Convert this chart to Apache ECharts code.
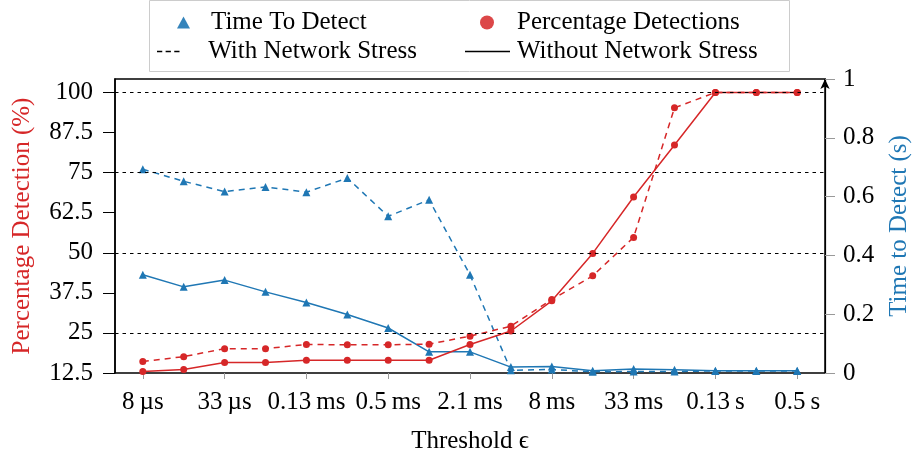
<!DOCTYPE html>
<html><head><meta charset="utf-8">
<script src="https://cdn.jsdelivr.net/npm/echarts@6/dist/echarts.min.js"></script>
<style>html,body{margin:0;padding:0;background:#fff}#c{width:917px;height:460px}</style>
</head><body><div id="c"></div>
<script>
// ---- data ----
const thresholds = ['8\u2009µs','16\u2009µs','33\u2009µs','66\u2009µs','0.13\u2009ms','0.26\u2009ms','0.5\u2009ms','1\u2009ms','2.1\u2009ms','4.2\u2009ms','8\u2009ms','17\u2009ms','33\u2009ms','67\u2009ms','0.13\u2009s','0.27\u2009s','0.5\u2009s'];
const xTickIndex = [0,2,4,6,8,10,12,14,16];
const ttdWith    = [0.693,0.652,0.617,0.633,0.615,0.663,0.533,0.589,0.334,0.009,0.012,0.004,0.005,0.005,0.007,0.007,0.007];
const ttdWithout = [0.334,0.293,0.316,0.276,0.240,0.199,0.153,0.072,0.072,0.020,0.022,0.008,0.014,0.011,0.008,0.008,0.008];
const pdWith     = [16.1,17.6,20.1,20.1,21.4,21.3,21.3,21.5,24.0,27.1,35.4,42.8,54.8,95.2,100,100,100];
const pdWithout  = [13.0,13.6,15.8,15.8,16.5,16.5,16.5,16.5,21.4,25.6,35.0,49.8,67.4,83.6,100,100,100];
const leftTicks  = [12.5,25,37.5,50,62.5,75,87.5,100];
const gridValues = [25,50,75,100];

const FONT = "'Liberation Serif', 'DejaVu Serif', serif";
const BLUE = '#1f77b4', RED = '#d62728';
const FS = 25;
const pairs = arr => arr.map((v, i) => [i, v]);

const chart = echarts.init(document.getElementById('c'), null, {renderer: 'canvas'});
const legendText = pad => ({fontSize: FS, color: '#000', fontFamily: FONT,
  rich: {p: {width: pad, fontSize: FS}, t: {fontSize: FS, color: '#000', fontFamily: FONT}}});
const legendFmt = name => '{p|}{t|' + name + '}';

const option = {
  animation: false,
  textStyle: {fontFamily: FONT},
  grid: {left: 115, right: 92, top: 79, bottom: 87, outerBoundsMode: 'none', containLabel: false,
         show: true, borderColor: '#000', borderWidth: 1.5, backgroundColor: 'transparent'},
  graphic: [{type: 'rect', z: -10, shape: {x: 149.5, y: 0.5, width: 640, height: 71}, style: {fill: 'none', stroke: '#cccccc', lineWidth: 1}}],
  legend: [
    {left: 177, top: 10, padding: 0, selectedMode: false, itemWidth: 13, itemHeight: 12, formatter: legendFmt,
     data: [{name: 'Time To Detect', icon: 'triangle', itemStyle: {color: BLUE, opacity: 0.9}}], textStyle: legendText(16)},
    {left: 480, top: 10, padding: 0, selectedMode: false, itemWidth: 14, itemHeight: 14, formatter: legendFmt,
     data: [{name: 'Percentage Detections', icon: 'circle', itemStyle: {color: RED, opacity: 0.85}}], textStyle: legendText(18)},
    {left: 157, top: 39, padding: 0, selectedMode: false, itemWidth: 30, itemHeight: 1.5, formatter: legendFmt,
     data: [{name: 'With Network Stress', icon: 'path://M0,0h7v2h-7zM11.5,0h7v2h-7zM23,0h7v2h-7z', itemStyle: {color: '#000'}}], textStyle: legendText(20)},
    {left: 465, top: 39, padding: 0, selectedMode: false, itemWidth: 45, itemHeight: 1.5, formatter: legendFmt,
     data: [{name: 'Without Network Stress', icon: 'rect', itemStyle: {color: '#000'}}], textStyle: legendText(2)}
  ],
  xAxis: {
    type: 'value', min: -0.68, max: 16.68,
    name: 'Threshold \u03f5', nameLocation: 'middle', nameGap: 56,
    nameTextStyle: {fontSize: FS, color: '#000', fontFamily: FONT},
    axisLine: {show: false},
    splitLine: {show: false},
    axisTick: {show: true, customValues: xTickIndex, length: 6, lineStyle: {color: '#999'}},
    axisLabel: {customValues: xTickIndex, formatter: v => thresholds[v], fontSize: FS, color: '#000', margin: 17, fontFamily: FONT}
  },
  yAxis: [
    {
      type: 'value', position: 'left', min: 12.5, max: 104.2,
      name: 'Percentage Detection (%)', nameLocation: 'middle', nameGap: 80, nameRotate: 90,
      nameTextStyle: {fontSize: FS, color: RED, fontFamily: FONT},
      axisLine: {show: true, onZero: false, lineStyle: {color: '#000', width: 1.5}},
      splitLine: {show: false},
      axisTick: {show: true, customValues: leftTicks, length: 12, lineStyle: {color: '#000'}},
      axisLabel: {customValues: leftTicks, formatter: v => String(v), fontSize: FS, color: '#000', margin: 22, fontFamily: FONT}
    },
    {
      type: 'value', position: 'right', min: 0, max: 1, interval: 0.2,
      name: 'Time to Detect (s)', nameLocation: 'middle', nameGap: 62, nameRotate: 90,
      nameTextStyle: {fontSize: FS, color: BLUE, fontFamily: FONT},
      axisLine: {show: true, onZero: false, symbol: ['none', 'arrow'], symbolSize: [7, 10], lineStyle: {color: '#000', width: 1.2}},
      splitLine: {show: false},
      axisTick: {show: true, length: 10, lineStyle: {color: '#999'}},
      axisLabel: {formatter: v => String(+v.toFixed(1)), fontSize: FS, color: '#000', margin: 18, fontFamily: FONT}
    }
  ],
  series: [
    {name: 'grid', type: 'line', yAxisIndex: 0, data: [], z: 1, silent: true,
     markLine: {silent: true, symbol: 'none', animation: false, label: {show: false},
       lineStyle: {color: '#000', type: [3.5, 4], width: 1}, data: gridValues.map(v => ({yAxis: v}))}},
    {name: 'TTD with stress', type: 'line', yAxisIndex: 1, z: 3, data: pairs(ttdWith), symbol: 'triangle', symbolSize: 8,
     itemStyle: {color: BLUE}, lineStyle: {color: BLUE, width: 1.5, type: [6, 5]}},
    {name: 'TTD without stress', type: 'line', yAxisIndex: 1, z: 3, data: pairs(ttdWithout), symbol: 'triangle', symbolSize: 8,
     itemStyle: {color: BLUE}, lineStyle: {color: BLUE, width: 1.5}},
    {name: 'PD with stress', type: 'line', yAxisIndex: 0, z: 4, data: pairs(pdWith), symbol: 'circle', symbolSize: 7,
     itemStyle: {color: RED}, lineStyle: {color: RED, width: 1.5, type: [6, 5]}},
    {name: 'PD without stress', type: 'line', yAxisIndex: 0, z: 4, data: pairs(pdWithout), symbol: 'circle', symbolSize: 7,
     itemStyle: {color: RED}, lineStyle: {color: RED, width: 1.5}},
    {name: 'Time To Detect', type: 'line', data: [], itemStyle: {color: BLUE}},
    {name: 'Percentage Detections', type: 'line', data: [], itemStyle: {color: RED}},
    {name: 'With Network Stress', type: 'line', data: [], itemStyle: {color: '#000'}},
    {name: 'Without Network Stress', type: 'line', data: [], itemStyle: {color: '#000'}}
  ]
};
chart.setOption(option);
</script></body></html>
